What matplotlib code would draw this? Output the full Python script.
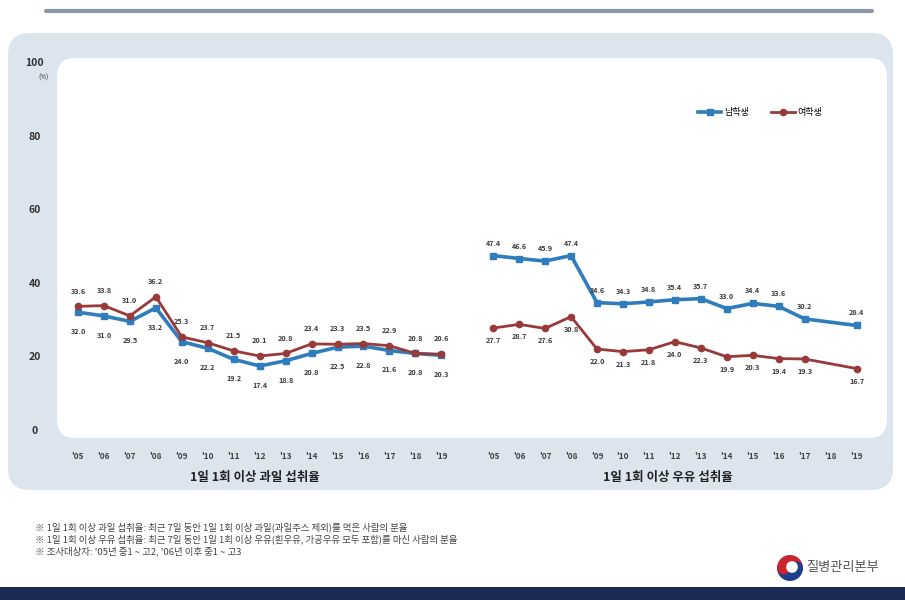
import numpy as np
import matplotlib
matplotlib.use('Agg')
import matplotlib.pyplot as plt
from matplotlib.patches import FancyBboxPatch, Rectangle, Wedge, Circle

plt.rcParams['font.family'] = ['Noto Sans CJK KR', 'DejaVu Sans']

# ------------------------------------------------------------
# 데이터
# ------------------------------------------------------------
years = ["'05", "'06", "'07", "'08", "'09", "'10", "'11", "'12",
         "'13", "'14", "'15", "'16", "'17", "'18", "'19"]

fruit_boys = [32.0, 31.0, 29.5, 33.2, 24.0, 22.2, 19.2, 17.4,
              18.8, 20.8, 22.5, 22.8, 21.6, 20.8, 20.3]
fruit_girls = [33.6, 33.8, 31.0, 36.2, 25.3, 23.7, 21.5, 20.1,
               20.8, 23.4, 23.3, 23.5, 22.9, 20.8, 20.6]

# 2018년 우유 섭취율은 조사 안 됨
milk_boys = [47.4, 46.6, 45.9, 47.4, 34.6, 34.3, 34.8, 35.4,
             35.7, 33.0, 34.4, 33.6, 30.2, None, 28.4]
milk_girls = [27.7, 28.7, 27.6, 30.8, 22.0, 21.3, 21.8, 24.0,
              22.3, 19.9, 20.3, 19.4, 19.3, None, 16.7]

panel_titles = ['1일 1회 이상 과일 섭취율', '1일 1회 이상 우유 섭취율']
legend_labels = ['남학생', '여학생']
footnotes = [
    '※ 1일 1회 이상 과일 섭취율: 최근 7일 동안 1일 1회 이상 과일(과일주스 제외)를 먹은 사람의 분율',
    '※ 1일 1회 이상 우유 섭취율: 최근 7일 동안 1일 1회 이상 우유(흰우유, 가공우유 모두 포함)를 마신 사람의 분율',
    "※ 조사대상자: '05년 중1 ~ 고2, '06년 이후 중1 ~ 고3",
]
agency = '질병관리본부'

BLUE = '#2f7dbd'
RED = '#983a3a'
PANEL = '#dce4ee'
NAVY = '#1b2b55'
LABEL = '#3a3a3a'

W, H = 905, 600
fig = plt.figure(figsize=(W / 100, H / 100), dpi=100)

# 배경 (픽셀 좌표)
bg = fig.add_axes([0, 0, 1, 1])
bg.set_xlim(0, W)
bg.set_ylim(H, 0)
bg.axis('off')

bg.plot([46, 872], [11, 11], color='#8e99a8', lw=3, solid_capstyle='round')
bg.add_patch(FancyBboxPatch((8, 33), 885, 457, boxstyle='round,pad=0,rounding_size=22',
                            fc=PANEL, ec='none'))
bg.add_patch(FancyBboxPatch((57, 58), 830, 380, boxstyle='round,pad=0,rounding_size=18',
                            fc='white', ec='none'))
bg.text(43, 78, '(%)', fontsize=4.5, ha='center', va='center', color='#333333')

for t, xc in zip(panel_titles, [255, 668]):
    bg.text(xc, 478, t, fontsize=9, fontweight='bold', ha='center', va='center', color='#222222')

for i, line in enumerate(footnotes):
    bg.text(35, 527 + i * 12, line, fontsize=6.8, ha='left', va='center', color='#444444')

# 로고
cx, cy, r = 790, 568, 13
bg.add_patch(Wedge((cx, cy), r, 180, 360, fc='#c8262e', ec='none'))
bg.add_patch(Wedge((cx, cy), r, 0, 180, fc='#1f3f8a', ec='none'))
bg.add_patch(Circle((cx - r / 2, cy), r / 2, fc='#c8262e', ec='none'))
bg.add_patch(Circle((cx + r / 2, cy), r / 2, fc='#1f3f8a', ec='none'))
bg.add_patch(Circle((cx + 2, cy - 1), r * 0.45, fc='white', ec='none'))
bg.text(806, 568, agency, fontsize=9.5, ha='left', va='center', color='#555555')

bg.add_patch(Rectangle((0, 587), W, 13, fc=NAVY, ec='none'))

# ------------------------------------------------------------
# 그래프
# ------------------------------------------------------------
px0, px1, py0, py1 = 57, 887, 430, 62
ax = fig.add_axes([px0 / W, 1 - py0 / H, (px1 - px0) / W, (py0 - py1) / H])
ax.patch.set_alpha(0)
unit = 25.95
ax.set_xlim((px0 - 78) / unit, (px1 - 78) / unit)
ax.set_ylim(0, 100)
for s in ax.spines.values():
    s.set_visible(False)

x_fruit = np.arange(len(years))
x_milk = x_fruit + 16
ax.set_xticks(np.concatenate([x_fruit, x_milk]))
ax.set_xticklabels(years + years, fontsize=6, color='#444444', fontweight='bold')
ax.set_yticks(np.arange(0, 101, 20))
ax.set_yticklabels([str(v) for v in range(0, 101, 20)], fontsize=7.5,
                   fontweight='bold', color='#333333')
for lb in ax.get_yticklabels():
    lb.set_ha('center')
ax.tick_params(axis='x', length=0, pad=16)
ax.tick_params(axis='y', length=0, pad=16)


def draw(xs, vals, color, marker, ms, lw, label=None):
    pts = [(x, v) for x, v in zip(xs, vals) if v is not None]
    px, pv = zip(*pts)
    ln, = ax.plot(px, pv, color=color, lw=lw, marker=marker, ms=ms,
                  mec=color, mfc=color, label=label, zorder=3)
    return pts, ln


def annotate(pts, dy):
    for x, v in pts:
        ax.annotate(f'{v:.1f}', (x, v), xytext=(0, dy), textcoords='offset points',
                    ha='center', va='center', fontsize=5.2, fontweight='bold', color=LABEL)


p, h_boys = draw(x_fruit, fruit_boys, BLUE, 's', 5, 2.6, legend_labels[0])
annotate(p, -14)
p, h_girls = draw(x_fruit, fruit_girls, RED, 'o', 4.5, 2.0, legend_labels[1])
annotate(p, 11)
p, _ = draw(x_milk, milk_boys, BLUE, 's', 5, 2.6)
annotate(p, 9)
p, _ = draw(x_milk, milk_girls, RED, 'o', 4.5, 2.0)
annotate(p, -9)

fig.legend(handles=[h_boys, h_girls], loc='center', ncol=2, frameon=False,
           bbox_to_anchor=(760 / W, 1 - 113 / H), fontsize=6.5, handlelength=2.6,
           columnspacing=2.5, handletextpad=0.3)

fig.savefig('out.png', dpi=100)
